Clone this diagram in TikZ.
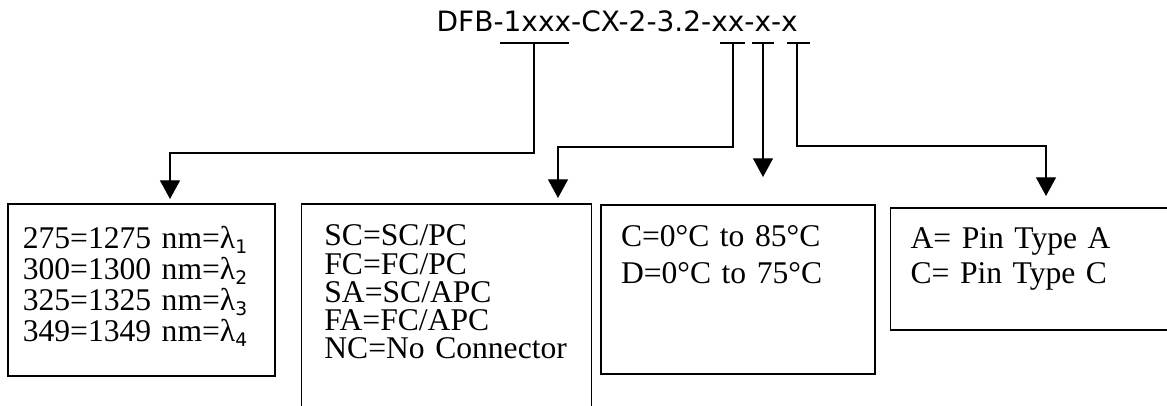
\documentclass[tikz,border=0pt]{standalone}
\usepackage{fontspec}
\setmainfont{Liberation Serif}
\newfontfamily\codefont{DejaVu Sans}
\usepackage{tikz}
\usetikzlibrary{arrows.meta, positioning, calc}

% wavelength with a small sans subscript
\newcommand{\wl}[1]{λ\raisebox{-3.5pt}{\codefont\fontsize{14}{14}\selectfont #1}}

\begin{document}
\begin{tikzpicture}[
    x=0.75pt, y=-0.75pt,
    box/.style={rectangle, draw, line width=1.2pt, inner ysep=0pt, align=left, anchor=north west},
    lines/.style={font=\fontsize{23.7}{#1}\selectfont},
    arrow/.style={-{Triangle[length=14pt, width=15pt]}, line width=1pt},
    tick/.style={line width=1pt}
]
\useasboundingbox (0,0) rectangle (1167,406);
\clip (0,0) rectangle (1167,406);

% part number and its marked fields
\node[font=\codefont\fontsize{21}{21}\selectfont, inner sep=0pt, anchor=base east] (code) at (798,32) {DFB-1xxx-CX-2-3.2-xx-x-x};
\foreach \a/\b in {500/569, 720/745, 752/774, 787/810}
    \draw[tick] (\a,43) -- (\b,43);
\coordinate (t1) at (534,43);
\coordinate (t2) at (733,43);
\coordinate (t3) at (763,43);
\coordinate (t4) at (797,43);

% option boxes
\node[box, lines=23.25pt, text width=177.75pt, inner xsep=11.25pt, text height=33.75pt, text depth=95.25pt] (wave) at (7,203)
    {275=1275 nm=\wl{1}\\300=1300 nm=\wl{2}\\325=1325 nm=\wl{3}\\349=1349 nm=\wl{4}};
\node[box, lines=21.2pt, text width=183pt, inner xsep=17.25pt, text height=31.5pt, text depth=131.25pt,
    right=18.75pt of wave.north east, anchor=north west] (conn)
    {SC=SC/PC\\FC=FC/PC\\SA=SC/APC\\FA=FC/APC\\NC=No Connector};
\node[box, lines=27.75pt, text width=175.5pt, inner xsep=15pt, text height=31.5pt, text depth=95.25pt,
    right=6pt of conn.north east, anchor=north west, yshift=-0.75pt] (temp)
    {C=0°C to 85°C\\D=0°C to 75°C};
\node[box, lines=26.25pt, text width=198.75pt, inner xsep=15pt, text height=30.75pt, text depth=60.75pt,
    right=10.5pt of temp.north east, anchor=north west, yshift=-2.25pt] (pin)
    {A= Pin Type A\\C= Pin Type C};

% connectors
\coordinate (k1) at (170,153);
\coordinate (k2) at (558,147);
\coordinate (e3) at (763,177);
\coordinate (k4) at (1046,146);
\draw[arrow, shorten >=3pt] (t1) |- (k1) -- (k1 |- wave.north);
\draw[arrow, shorten >=3.75pt] (t2) |- (k2) -- (k2 |- conn.north);
\draw[arrow] (t3) -- (e3);
\draw[arrow, shorten >=8.25pt] (t4) |- (k4) -- (k4 |- pin.north);

\end{tikzpicture}
\end{document}
